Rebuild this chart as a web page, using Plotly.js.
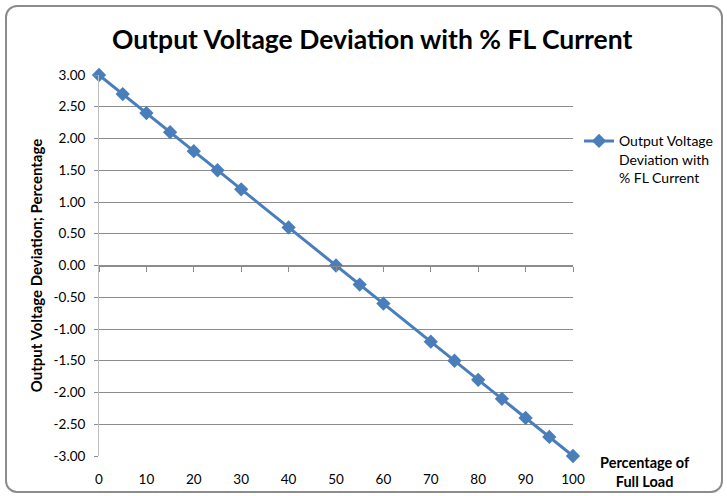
<!DOCTYPE html>
<html><head><meta charset="utf-8">
<script src="https://cdn.plot.ly/plotly-3.0.1.min.js"></script>
<style>
html,body{margin:0;padding:0;background:#fff;}
#wrap{position:relative;width:727px;height:496px;}
#frame{position:absolute;left:5px;top:5px;width:714px;height:484px;border:2px solid #8c8c8c;border-radius:12px;pointer-events:none;}
#chart{position:absolute;left:0;top:0;width:727px;height:496px;}
</style></head>
<body><div id="wrap"><div id="chart"></div><div id="frame"></div></div>
<script>
const loadPct = [0,5,10,15,20,25,30,40,50,55,60,70,75,80,85,90,95,100];
const deviation = [3.00,2.70,2.40,2.10,1.80,1.50,1.20,0.60,0.00,-0.30,-0.60,-1.20,-1.50,-1.80,-2.10,-2.40,-2.70,-3.00];
const xTicks = [0,10,20,30,40,50,60,70,80,90,100];
const yTicks = [3,2.5,2,1.5,1,0.5,0,-0.5,-1,-1.5,-2,-2.5,-3];
const yTickText = yTicks.map(v => v.toFixed(2));
const seriesName = 'Output Voltage<br>Deviation with<br>% FL Current';

const blue = '#4A7EBB';
const fontFam = 'Lato, "Liberation Sans Narrow", "Open Sans", sans-serif';

const traces = [
  {x: loadPct, y: deviation, type:'scatter', mode:'lines+markers', name: seriesName,
   line:{color:blue, width:3}, marker:{symbol:'diamond', size:11, color:blue},
   cliponaxis:false, showlegend:true},
  {x: loadPct, y: deviation, type:'scatter', mode:'lines', xaxis:'x2', yaxis:'y',
   line:{color:'rgba(0,0,0,0)', width:0}, hoverinfo:'skip', showlegend:false}
];

const layout = {
  width:727, height:496,
  margin:{l:99, r:154, t:75, b:40, autoexpand:false},
  paper_bgcolor:'#fff', plot_bgcolor:'#fff',
  font:{family:fontFam, size:13, color:'#000'},
  title:{text:'<b>Output Voltage Deviation with % FL Current</b>', x:0.512, xanchor:'center', y:0.92, yanchor:'middle',
         font:{family:fontFam, size:26.5, color:'#000'}},
  xaxis:{range:[0,100], tickvals:xTicks, ticktext:xTicks.map(String), showline:false, showgrid:false, zeroline:false,
         ticks:'', tickfont:{size:13.5, color:'#000'}, ticklabelstandoff:13},
  xaxis2:{range:[0,100], overlaying:'x', anchor:'free', position:0.5, side:'bottom', tickvals:xTicks,
          showticklabels:false, ticks:'outside', ticklen:5, tickcolor:'#8c8c8c', tickwidth:1,
          showline:true, linecolor:'#8c8c8c', linewidth:1, showgrid:false, zeroline:false},
  yaxis:{range:[-3,3], tickvals:yTicks, ticktext:yTickText, showgrid:true, gridcolor:'#8c8c8c', gridwidth:1,
         zeroline:false, showline:true, linecolor:'#bfbfbf', linewidth:1, ticks:'outside', ticklen:4, tickcolor:'#8c8c8c',
         tickfont:{size:13.5, color:'#000'}, ticklabelstandoff:6,
         title:{text:'<b>Output Voltage Deviation; Percentage</b>', font:{size:15, color:'#000'}, standoff:7}},
  legend:{x:1.0127, xanchor:'left', y:0.868, yanchor:'top', valign:'top', font:{size:14, color:'#000'},
          bgcolor:'rgba(0,0,0,0)', itemwidth:30},
  annotations:[
    {xref:'paper', yref:'paper', x:1.152, y:-0.042, xanchor:'center', yanchor:'middle', showarrow:false,
     text:'<b>Percentage of<br>Full Load</b>', font:{size:14.5, color:'#000'}, align:'center'}
  ]
};

Plotly.newPlot('chart', traces, layout, {displayModeBar:false, staticPlot:true});
</script></body></html>
